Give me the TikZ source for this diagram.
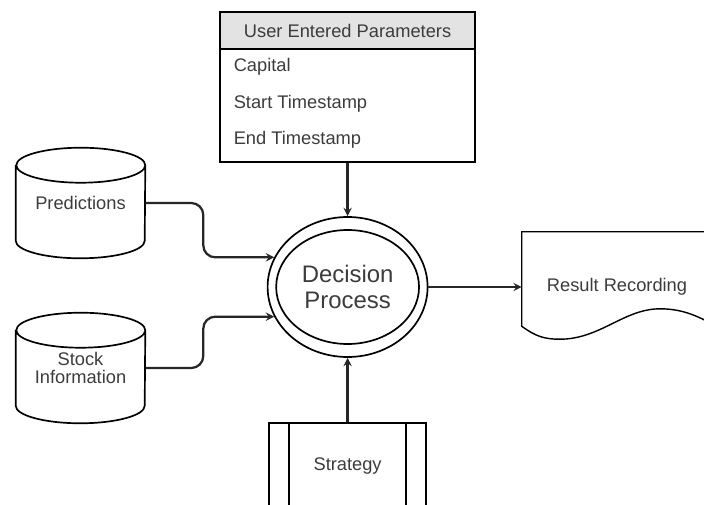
\documentclass[tikz,border=0pt]{standalone}
\usepackage{fontspec}
\setmainfont{Liberation Sans}
\usepackage{xcolor}
\usetikzlibrary{shapes.geometric, arrows, calc}
\definecolor{txtgray}{HTML}{3C3C3C}
\tikzstyle{store} = [minimum width=3.225cm, minimum height=2.75cm, text=txtgray, align=center]
\tikzstyle{flow} = [line width=1.6pt, ->, >=stealth, draw=black!85, rounded corners=0.3cm]

\begin{document}
\begin{tikzpicture}[font=\fontsize{13}{13}\selectfont]
    \useasboundingbox (0,0) rectangle (17.6,12.6);

    % Parameters box
    \node[draw, line width=1pt, minimum width=6.375cm, minimum height=3.75cm] (params) at (8.69, 10.425) {};
    \node[draw, line width=1pt, fill=gray!22, minimum width=6.375cm, minimum height=0.925cm, text=txtgray] (hdr) at (8.69, 11.8375) {User Entered Parameters};
    \node[anchor=west, text=txtgray] (cap) at (5.72, 10.93) {Capital};
    \node[anchor=west, text=txtgray] (start) at (5.72, 10.0) {Start Timestamp};
    \node[anchor=west, text=txtgray] (end) at (5.72, 9.1) {End Timestamp};

    % Decision process
    \node[ellipse, draw, line width=1.2pt, minimum width=4cm, minimum height=3.5cm] (dec) at (8.69, 5.425) {};
    \node[ellipse, draw, line width=1.2pt, minimum width=3.25cm, minimum height=2.85cm, align=center, text=txtgray, font=\fontsize{17}{19}\selectfont] (decin) at (dec.center) {Decision\\Process};

    % Data stores
    \node[store] (pred) at (2.0125, 7.525) {Predictions};
    \node[store] (stock) at (2.0125, 3.4) {Stock\\Information};
    \foreach \s in {pred, stock} {
        \draw[line width=1.2pt] ([yshift=-0.4375cm]\s.north west) -- ([yshift=0.4375cm]\s.south west)
            arc[start angle=180, end angle=360, x radius=1.6125cm, y radius=0.4375cm]
            -- ([yshift=-0.4375cm]\s.north east)
            arc[start angle=0, end angle=360, x radius=1.6125cm, y radius=0.4375cm];
    }

    % Strategy
    \node[draw, line width=1.2pt, minimum width=3.925cm, minimum height=2.175cm, text=txtgray] (strat) at (8.69, 0.9375) {Strategy};
    \draw[line width=1.2pt] ([xshift=0.525cm]strat.north west) -- ([xshift=0.525cm]strat.south west);
    \draw[line width=1.2pt] ([xshift=-0.525cm]strat.north east) -- ([xshift=-0.525cm]strat.south east);

    % Result document
    \node[minimum width=4.75cm, minimum height=2.75cm, text=txtgray] (res) at (15.425, 5.425) {Result Recording};
    \draw[line width=1pt] (res.north east) -- (res.north west) -- ([yshift=0.4cm]res.south west)
        .. controls ++(0.35,-0.25) and (13.6,4.12) .. (14.0,4.12)
        .. controls (15.0,4.12) and (15.6,4.88) .. (16.5,4.88)
        .. controls (17.2,4.88) and (17.6,4.6) .. (18.2,4.3);

    % Flows
    \draw[flow] (params.south) -- (dec.north);
    \draw[flow] (strat.north) -- (dec.south);
    \draw[flow] (pred.east) -- ++(1.45,0) |- (dec.158);
    \draw[flow] (stock.east) -- ++(1.45,0) |- (dec.202);
    \draw[flow] (dec.east) -- (res.west);
\end{tikzpicture}
\end{document}
